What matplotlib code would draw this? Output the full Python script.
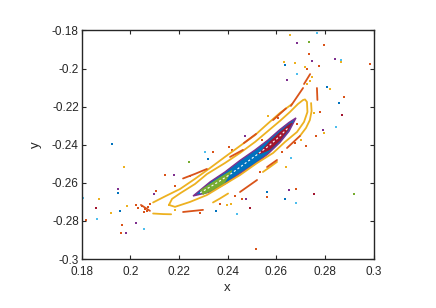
import numpy as np
import matplotlib
matplotlib.use("Agg")
import matplotlib.pyplot as plt

plt.rcParams['font.family'] = ['Liberation Sans', 'DejaVu Sans']

# kolory MATLAB-a
c_blue = '#0072BD'
c_orange = '#D95319'
c_yellow = '#EDB120'
c_purple = '#7E2F8E'
c_green = '#77AC30'
c_lblue = '#4DBEEE'
c_dred = '#A2142F'

# osie
xticks = [0.18, 0.2, 0.22, 0.24, 0.26, 0.28, 0.3]
xtick_labels = ['0.18', '0.2', '0.22', '0.24', '0.26', '0.28', '0.3']
yticks = [-0.3, -0.28, -0.26, -0.24, -0.22, -0.2, -0.18]
ytick_labels = ['-0.3', '-0.28', '-0.26', '-0.24', '-0.22', '-0.2', '-0.18']

# pasmo centralne (niebieskie)
band_x = [0.2258, 0.2328, 0.2389, 0.2451, 0.2513, 0.2566, 0.2615, 0.2652, 0.2681,
          0.2652, 0.2615, 0.2566, 0.2513, 0.2451, 0.2389, 0.2328, 0.2258]
band_y = [-0.2669, -0.2595, -0.2543, -0.2482, -0.2427, -0.2375, -0.2320, -0.2283, -0.2259,
          -0.2330, -0.2388, -0.2448, -0.2501, -0.2551, -0.2606, -0.2648, -0.2669]

red_x = [0.2525, 0.2541, 0.2574, 0.2615, 0.2648, 0.2665, 0.2648, 0.2615, 0.2574, 0.2541, 0.2525]
red_y = [-0.2448, -0.2430, -0.2383, -0.2335, -0.2299, -0.2285, -0.2322, -0.2377, -0.2425, -0.2443, -0.2448]

green_x = [0.2287, 0.2328, 0.2369, 0.2418, 0.2385, 0.2336, 0.2299, 0.2287]
green_y = [-0.2640, -0.2606, -0.2572, -0.2535, -0.2604, -0.2640, -0.2661, -0.2640]

mid_x = [0.2287, 0.2348, 0.2410, 0.2472, 0.2525, 0.2574, 0.2615, 0.2648]
mid_y = [-0.2653, -0.2606, -0.2556, -0.2498, -0.2448, -0.2401, -0.2354, -0.2312]

# wewnetrzna zolta petla
y1_x = [0.2159, 0.2172, 0.2205, 0.2266, 0.2315, 0.2389, 0.2451, 0.2513, 0.2562, 0.2615,
        0.2656, 0.2689, 0.2710, 0.2718, 0.2726, 0.2728, 0.2714, 0.2685, 0.2636, 0.2587,
        0.2521, 0.2451, 0.2377, 0.2315, 0.2246, 0.2184, 0.2159]
y1_y = [-0.2716, -0.2684, -0.2655, -0.2606, -0.2554, -0.2496, -0.2443, -0.2385, -0.2332, -0.2275,
        -0.2228, -0.2186, -0.2165, -0.2162, -0.2175, -0.2228, -0.2280, -0.2333, -0.2385, -0.2443,
        -0.2496, -0.2559, -0.2616, -0.2664, -0.2700, -0.2726, -0.2716]

# zewnetrzna zolta krzywa
y2u_x = [0.2094, 0.2143, 0.2205, 0.2266, 0.2328, 0.2389, 0.2451, 0.2513, 0.2566, 0.2615, 0.2665]
y2u_y = [-0.2703, -0.2671, -0.2632, -0.2579, -0.2522, -0.2464, -0.2406, -0.2349, -0.2288, -0.2233, -0.2186]

y2l_segs = [
    ([0.2094, 0.2135, 0.2168], [-0.2761, -0.2764, -0.2765]),
    ([0.2340, 0.2369, 0.2402], [-0.2703, -0.2682, -0.2656]),
    ([0.2545, 0.2574, 0.2603], [-0.2543, -0.2517, -0.2490]),
    ([0.2697, 0.2722, 0.2738, 0.2745, 0.2743], [-0.2354, -0.2312, -0.2270, -0.2223, -0.2181]),
]

# lancuch wysp (pomaranczowe odcinki)
orange_segs = [
    ([0.2217, 0.2266, 0.2315], [-0.2577, -0.2553, -0.2527]),
    ([0.2410, 0.2463], [-0.2464, -0.2427]),
    ([0.2467, 0.2517], [-0.2391, -0.2343]),
    ([0.2587, 0.2640], [-0.2270, -0.2209]),
    ([0.2660, 0.2710], [-0.2196, -0.2102]),
    ([0.2714, 0.2739], [-0.2081, -0.2029]),
    ([0.2767, 0.2769], [-0.2102, -0.2165]),
    ([0.2644, 0.2697], [-0.2417, -0.2354]),
    ([0.2562, 0.2603], [-0.2517, -0.2480]),
    ([0.2451, 0.2521], [-0.2648, -0.2585]),
    ([0.2217, 0.2299], [-0.2753, -0.2742]),
    ([0.2044, 0.2081], [-0.2716, -0.2747]),
]

# rozrzucone punkty
blue_x = [0.1924, 0.1948, 0.1959, 0.2321, 0.2351, 0.2561, 0.2634, 0.2635, 0.2808, 0.2856]
blue_y = [-0.2396, -0.2653, -0.2747, -0.2475, -0.2750, -0.2646, -0.2684, -0.1981, -0.2097, -0.2179]

lblue_x = [0.1808, 0.1864, 0.2055, 0.2307, 0.2437, 0.2660, 0.2679, 0.2685, 0.2768, 0.2864, 0.2844]
lblue_y = [-0.2679, -0.2789, -0.2842, -0.2436, -0.2766, -0.2471, -0.2705, -0.2027, -0.1812, -0.1955, -0.2308]

yellow_x = [0.1872, 0.1922, 0.1973, 0.1987, 0.2144, 0.2413, 0.2639, 0.2655, 0.2632, 0.2676,
            0.2719, 0.2822, 0.2867, 0.2755, 0.2795, 0.2738, 0.2726, 0.2747, 0.2566, 0.2701,
            0.2398, 0.2184]
yellow_y = [-0.2684, -0.2760, -0.2515, -0.2721, -0.2558, -0.2712, -0.2515, -0.1824, -0.1964, -0.1969,
            -0.1990, -0.2105, -0.1964, -0.2231, -0.2340, -0.2065, -0.2081, -0.2044, -0.2249, -0.2375,
            -0.2716, -0.2742]

purple_x = [0.1950, 0.2025, 0.1982, 0.2096, 0.2178, 0.2471, 0.2476, 0.2654, 0.2685, 0.2748,
            0.2840, 0.2644, 0.2790]
purple_y = [-0.2632, -0.2809, -0.2861, -0.2661, -0.2558, -0.2352, -0.2683, -0.2635, -0.1864, -0.1960,
            -0.1950, -0.2058, -0.2320]

green_pts_x = [0.2243, 0.2736, 0.2918]
green_pts_y = [-0.2488, -0.1860, -0.2658]

orange_x = [0.1818, 0.1966, 0.1962, 0.2106, 0.2143, 0.2341, 0.2407, 0.2458, 0.2517, 0.2561,
            0.2721, 0.2682, 0.2796, 0.2733, 0.2775, 0.2880, 0.2984, 0.2762, 0.2778, 0.2727,
            0.2032, 0.2048, 0.2061, 0.2073, 0.2024, 0.2057, 0.2081, 0.2069,
            0.2184, 0.2246, 0.2418, 0.2541, 0.2607, 0.2685, 0.2677, 0.2623, 0.2533, 0.2430,
            0.2369, 0.2287]
orange_y = [-0.2795, -0.2821, -0.2865, -0.2642, -0.2558, -0.2439, -0.2413, -0.2686, -0.2947, -0.2672,
            -0.2406, -0.2630, -0.1876, -0.1922, -0.1988, -0.2147, -0.1974, -0.2354, -0.2228, -0.2004,
            -0.2732, -0.2721, -0.2737, -0.2726, -0.2716, -0.2753, -0.2711, -0.2747,
            -0.2616, -0.2564, -0.2427, -0.2375, -0.2259, -0.2291, -0.2391, -0.2438, -0.2543, -0.2669,
            -0.2711, -0.2758]

dred_x = [0.1860, 0.2870, 0.2754, 0.2492]
dred_y = [-0.2734, -0.2244, -0.2658, -0.2733]

fig = plt.figure(figsize=(4.36, 3.08), dpi=100)
ax = fig.add_axes([0.187, 0.159, 0.670, 0.742])

# krzywe zolte
ax.plot(y1_x, y1_y, color=c_yellow, lw=1.3, solid_capstyle='round')
ax.plot(y2u_x, y2u_y, color=c_yellow, lw=1.3, solid_capstyle='round')
for sx, sy in y2l_segs:
    ax.plot(sx, sy, color=c_yellow, lw=1.3, solid_capstyle='round')
for sx, sy in orange_segs:
    ax.plot(sx, sy, color=c_orange, lw=1.3, solid_capstyle='round')

# pasmo centralne
ax.fill(band_x, band_y, facecolor=c_blue, edgecolor=c_purple, lw=1.0)
ax.fill(red_x, red_y, facecolor=c_dred, edgecolor=c_dred, lw=0.5)
ax.fill(green_x, green_y, facecolor=c_green, edgecolor=c_green, lw=0.5)
ax.plot(mid_x, mid_y, color='white', lw=0.8, ls=(0, (2, 2)))

# punkty
ms = 2.5
ax.scatter(blue_x, blue_y, s=ms, marker='s', color=c_blue, lw=0)
ax.scatter(lblue_x, lblue_y, s=ms, marker='s', color=c_lblue, lw=0)
ax.scatter(yellow_x, yellow_y, s=ms, marker='s', color=c_yellow, lw=0)
ax.scatter(purple_x, purple_y, s=ms, marker='s', color=c_purple, lw=0)
ax.scatter(green_pts_x, green_pts_y, s=ms, marker='s', color=c_green, lw=0)
ax.scatter(orange_x, orange_y, s=ms, marker='s', color=c_orange, lw=0)
ax.scatter(dred_x, dred_y, s=ms, marker='s', color=c_dred, lw=0)

ax.set_xlim(0.18, 0.3)
ax.set_ylim(-0.3, -0.18)
ax.set_xticks(xticks)
ax.set_xticklabels(xtick_labels)
ax.set_yticks(yticks)
ax.set_yticklabels(ytick_labels)
ax.tick_params(direction='in', length=3, width=0.8, top=True, right=True,
               labelsize=8.5, colors='#262626')
ax.tick_params(axis='x', pad=5)
ax.tick_params(axis='y', pad=2)
for s in ax.spines.values():
    s.set_linewidth(1.0)
    s.set_color('#262626')
ax.set_xlabel('x', fontsize=9.5, color='#262626', labelpad=3)
ax.set_ylabel('y', fontsize=9.5, color='#262626', labelpad=7)

fig.savefig('out.png', dpi=100)
